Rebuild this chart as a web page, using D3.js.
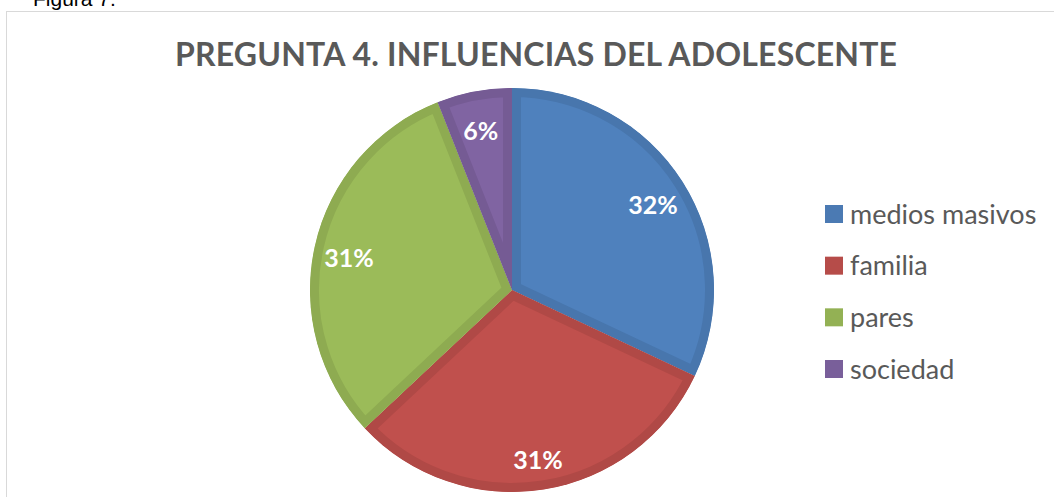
<!DOCTYPE html>
<html>
<head>
<meta charset="utf-8">
<script src="https://cdn.jsdelivr.net/npm/d3@7"></script>
<style>
  body { margin: 0; background: #fff; }
  svg { display: block; }
</style>
</head>
<body>
<svg id="chart" width="1054" height="497"></svg>
<script>
var categories = ['medios masivos', 'familia', 'pares', 'sociedad'];
var values = [32, 31, 31, 6];
var colors = ['#4F81BD', '#C0504D', '#9BBB59', '#8064A2'];
var title = 'PREGUNTA 4. INFLUENCIAS DEL ADOLESCENTE';

var width = 1054, height = 497;
var cx = 512, cy = 290, radius = 202, band = 9;

var svg = d3.select('#chart');

// caption above the frame (cut off at the top like the original)
svg.append('text')
    .attr('x', 33)
    .attr('y', 6)
    .style('font-family', 'Liberation Sans, Arial, sans-serif')
    .style('font-size', '21px')
    .style('fill', '#000')
    .text('Figura 7.');

// chart frame
svg.append('rect')
    .attr('x', 6.5)
    .attr('y', 11.5)
    .attr('width', width + 10)
    .attr('height', height + 10)
    .style('fill', 'none')
    .style('stroke', '#d9d9d9')
    .style('stroke-width', 1);

svg.append('text')
    .attr('x', 536)
    .attr('y', 66)
    .attr('text-anchor', 'middle')
    .attr('textLength', 722)
    .attr('lengthAdjust', 'spacing')
    .style('font-family', 'Lato, sans-serif')
    .style('font-weight', 'bold')
    .style('font-size', '32px')
    .style('fill', '#595959')
    .text(title);

var pie = d3.pie().sort(null).value(function (d) { return d; });
var arcs = pie(values);
var total = d3.sum(values);

var arc = d3.arc().innerRadius(0).outerRadius(radius);
var labelArc = d3.arc().innerRadius(167).outerRadius(167);

var defs = svg.append('defs');
defs.selectAll('clipPath')
    .data(arcs)
    .enter()
    .append('clipPath')
    .attr('id', function (d, i) { return 'slice-clip-' + i; })
    .append('path')
    .attr('d', arc);

var g = svg.append('g')
    .attr('transform', 'translate(' + cx + ',' + cy + ')');

var slices = g.selectAll('g.slice')
    .data(arcs)
    .enter()
    .append('g')
    .classed('slice', true);

slices.append('path')
    .attr('d', arc)
    .attr('clip-path', function (d, i) { return 'url(#slice-clip-' + i + ')'; })
    .style('fill', function (d, i) { return colors[i]; })
    // darker inset band like the excel bevel
    .style('stroke', function (d, i) { return d3.color(colors[i]).darker(0.25); })
    .style('stroke-width', band * 2)
    .style('stroke-linejoin', 'miter');

slices.append('text')
    .attr('transform', function (d) { return 'translate(' + labelArc.centroid(d) + ')'; })
    .attr('text-anchor', 'middle')
    .attr('dy', '0.55em')
    .style('font-family', 'Lato, sans-serif')
    .style('font-weight', 'bold')
    .style('font-size', '25px')
    .style('fill', '#fff')
    .text(function (d) { return Math.round(d.value / total * 100) + '%'; });

// legend
var legendY = d3.scalePoint()
    .domain(categories)
    .range([214, 369]);

var legend = svg.append('g')
    .selectAll('g')
    .data(categories)
    .enter()
    .append('g')
    .attr('transform', function (d) { return 'translate(825,' + legendY(d) + ')'; });

legend.append('rect')
    .attr('x', 0)
    .attr('y', -9)
    .attr('width', 18)
    .attr('height', 18)
    .style('fill', function (d, i) { return d3.color(colors[i]).darker(0.15); });

legend.append('text')
    .attr('x', 25)
    .attr('dy', '0.36em')
    .style('font-family', 'Lato, sans-serif')
    .style('font-size', '27px')
    .style('fill', '#595959')
    .text(function (d) { return d; });
</script>
</body>
</html>
